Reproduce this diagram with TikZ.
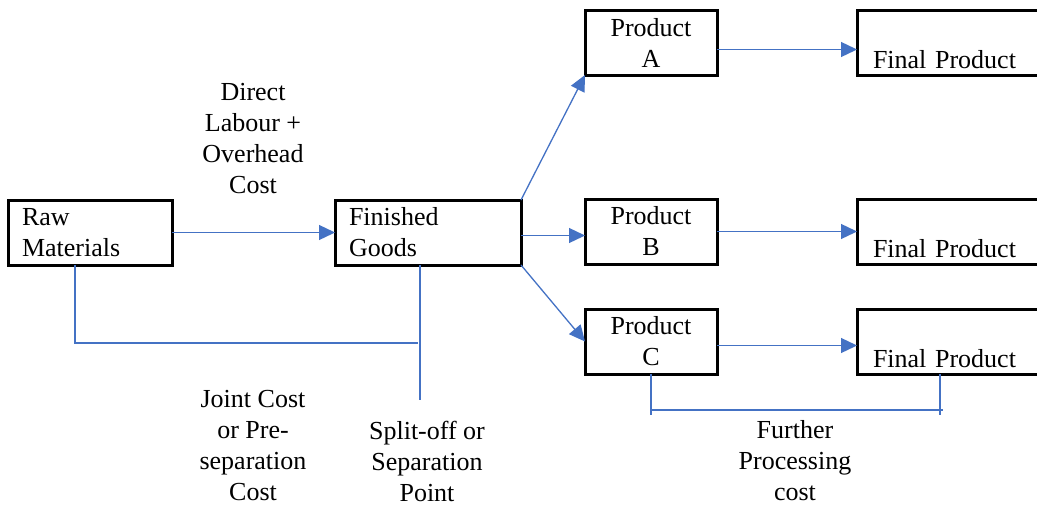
\documentclass[tikz,border=0pt]{standalone}
\usepackage{fontspec}
\setmainfont{Liberation Serif}
\usetikzlibrary{arrows.meta}
\definecolor{officeblue}{HTML}{4472C4}
\begin{document}
\begin{tikzpicture}[x=1pt,y=-1pt,
  box/.style={draw=black, line width=3pt, outer sep=0pt, minimum height=65pt, inner xsep=14pt, inner ysep=0pt},
  lbl/.style={align=center, inner sep=0pt},
  arr/.style={draw=officeblue, line width=1.3pt, -{Triangle[length=16pt,width=15pt]}},
  ln/.style={draw=officeblue, line width=1.3pt}]
\useasboundingbox (0,0) rectangle (1037,506);
\clip (0,0) rectangle (1037,506);
\fontsize{26pt}{31pt}\selectfont
% boxes
\node[box, minimum width=164pt, text width=136pt, align=left] (raw) at (90,232.5) {Raw\\Materials};
\node[box, minimum width=186pt, text width=158pt, align=left] (fin) at (428,232.5) {Finished\\Goods};
\node[box, minimum width=132pt, text width=104pt, align=center] (pA) at (651,42.5) {\rule[-4pt]{0pt}{4pt}Product\\A};
\node[box, minimum width=132pt, text width=104pt, align=center] (pB) at (651,231.5) {\rule[-4pt]{0pt}{4pt}Product\\B};
\node[box, minimum width=132pt, text width=104pt, align=center] (pC) at (651,341.5) {\rule[-4pt]{0pt}{4pt}Product\\C};
\node[box, minimum width=190pt, text width=158pt, inner xsep=16pt, align=left] (fA) at (952,42.5) {\strut\\Final Product};
\node[box, minimum width=190pt, text width=158pt, inner xsep=16pt, align=left] (fB) at (952,231.5) {\strut\\Final Product};
\node[box, minimum width=190pt, text width=158pt, inner xsep=16pt, align=left] (fC) at (952,341.5) {\strut\\Final Product};
% labels
\node[lbl] (dl) at (253,139) {Direct\\Labour +\\Overhead\\Cost};
\node[lbl] (jc) at (253,446) {Joint Cost\\or Pre-\\separation\\Cost};
\node[lbl] (so) at (427,461) {Split-off or\\Separation\\Point};
\node[lbl] (fp) at (795,461) {Further\\Processing\\cost};
% arrows
\draw[arr] (raw.east) -- (fin.west);
\draw[arr] (fin.north east) -- (pA.south west);
\draw[arr] ([yshift=-3pt]fin.east) -- ([yshift=-3pt]fin.east -| pB.west);
\draw[arr] (fin.south east) -- (pC.west);
\draw[arr] ([yshift=-7pt]pA.east) -- ([yshift=-7pt]pA.east -| fA.west);
\draw[arr] (pB.east) -- (pB.east -| fB.west);
\draw[arr] ([yshift=-4pt]pC.east) -- ([yshift=-4pt]pC.east -| fC.west);
% joint cost bracket
\coordinate (j1) at (75,343);
\coordinate (j2) at (418,343);
\draw[ln] (raw.south -| j1) -- (j1) -- (j2);
% split-off line
\coordinate (s1) at (420,400);
\draw[ln] (fin.south -| s1) -- (s1);
% further processing bracket
\coordinate (fl) at (651,415);
\coordinate (fr) at (940,415);
\coordinate (hl) at (651,410);
\coordinate (hr) at (943,410);
\draw[ln] (pC.south) -- (fl);
\draw[ln] (fC.south -| fr) -- (fr);
\draw[ln] (hl) -- (hr);
\end{tikzpicture}
\end{document}
